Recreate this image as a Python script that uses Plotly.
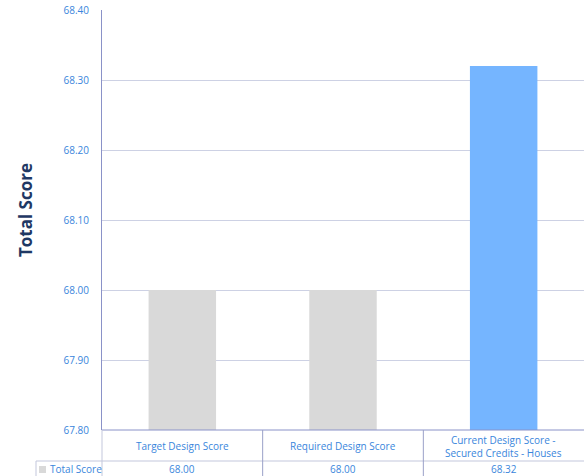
import plotly.graph_objects as go

categories = ["Target Design Score", "Required Design Score", "Current Design Score -<br>Secured Credits - Houses"]
values = [68.00, 68.00, 68.32]
bar_colors = ["#d9d9d9", "#d9d9d9", "#75b5ff"]
series_name = "Total Score"
tick_vals = [67.8, 67.9, 68.0, 68.1, 68.2, 68.3, 68.4]

W, H = 584, 476
ML, MR, MT, MB = 102, 0, 10, 46
PW = W - ML - MR
PH = H - MT - MB

def py(pix):
    # pixel y (from top) to paper y
    return 1 - (pix - MT) / PH

def px(pix):
    return (pix - ML) / PW

txt = "#3a86dc"
font = "Open Sans, Liberation Sans, sans-serif"

fig = go.Figure()
fig.add_trace(go.Bar(
    x=list(range(len(categories))), y=values, name=series_name,
    marker=dict(color=bar_colors, line=dict(width=0)),
    width=0.42, showlegend=False,
))

fig.update_layout(
    width=W, height=H,
    margin=dict(l=ML, r=MR, t=MT, b=MB, pad=0),
    paper_bgcolor="white", plot_bgcolor="white",
    font=dict(family=font, size=10, color=txt),
    xaxis=dict(range=[-0.5, len(categories) - 0.5], showticklabels=False,
               showgrid=False, zeroline=False, showline=False, fixedrange=True),
    yaxis=dict(range=[67.8, 68.4], tickvals=tick_vals, tickformat=".2f",
               showgrid=True, gridcolor="#cdd1e4", gridwidth=1,
               zeroline=False, showline=True, linecolor="#8a92c8", linewidth=1,
               ticks="", ticklabelstandoff=10,
               tickfont=dict(size=10, color=txt, family=font)),
    bargap=0.5,
)

# y-axis title
fig.add_annotation(text="<b>Total Score</b>", textangle=-90, xref="paper", yref="paper",
                   x=px(25), y=py(210), xanchor="center", yanchor="middle", showarrow=False,
                   font=dict(size=17, color="#1f3864", family=font))

# data table lines
line_dark = "#8a92c8"
line_light = "#c3c7dc"
fig.add_shape(type="line", xref="paper", yref="paper", x0=0, x1=1, y0=py(430), y1=py(430),
              line=dict(color=line_dark, width=1))
fig.add_shape(type="line", xref="paper", yref="paper", x0=px(36), x1=1, y0=py(461), y1=py(461),
              line=dict(color=line_light, width=1))
fig.add_shape(type="line", xref="paper", yref="paper", x0=0, x1=0, y0=py(430), y1=py(476),
              line=dict(color=line_light, width=1))
fig.add_shape(type="line", xref="paper", yref="paper", x0=px(36), x1=px(36), y0=py(461), y1=py(476),
              line=dict(color=line_light, width=1))
for i in range(1, len(categories)):
    fig.add_shape(type="line", xref="x", yref="paper", x0=i - 0.5, x1=i - 0.5, y0=py(430), y1=py(476),
                  line=dict(color="#9aa0c8", width=1))

# category labels and values
for i, (c, v) in enumerate(zip(categories, values)):
    fig.add_annotation(text=c, xref="x", yref="paper", x=i, y=py(446), xanchor="center",
                       yanchor="middle", showarrow=False,
                       font=dict(size=10, color=txt, family=font), align="center")
    fig.add_annotation(text=f"{v:.2f}", xref="x", yref="paper", x=i, y=py(469), xanchor="center",
                       yanchor="middle", showarrow=False,
                       font=dict(size=10, color=txt, family=font))

# legend key in table
fig.add_shape(type="rect", xref="paper", yref="paper", x0=px(39), x1=px(46), y0=py(473), y1=py(466),
              fillcolor=bar_colors[0], line=dict(width=0))
fig.add_annotation(text=series_name, xref="paper", yref="paper", x=px(48), y=py(469),
                   xanchor="left", yanchor="middle", showarrow=False,
                   font=dict(size=10, color=txt, family=font))

fig.write_html("out.html")
